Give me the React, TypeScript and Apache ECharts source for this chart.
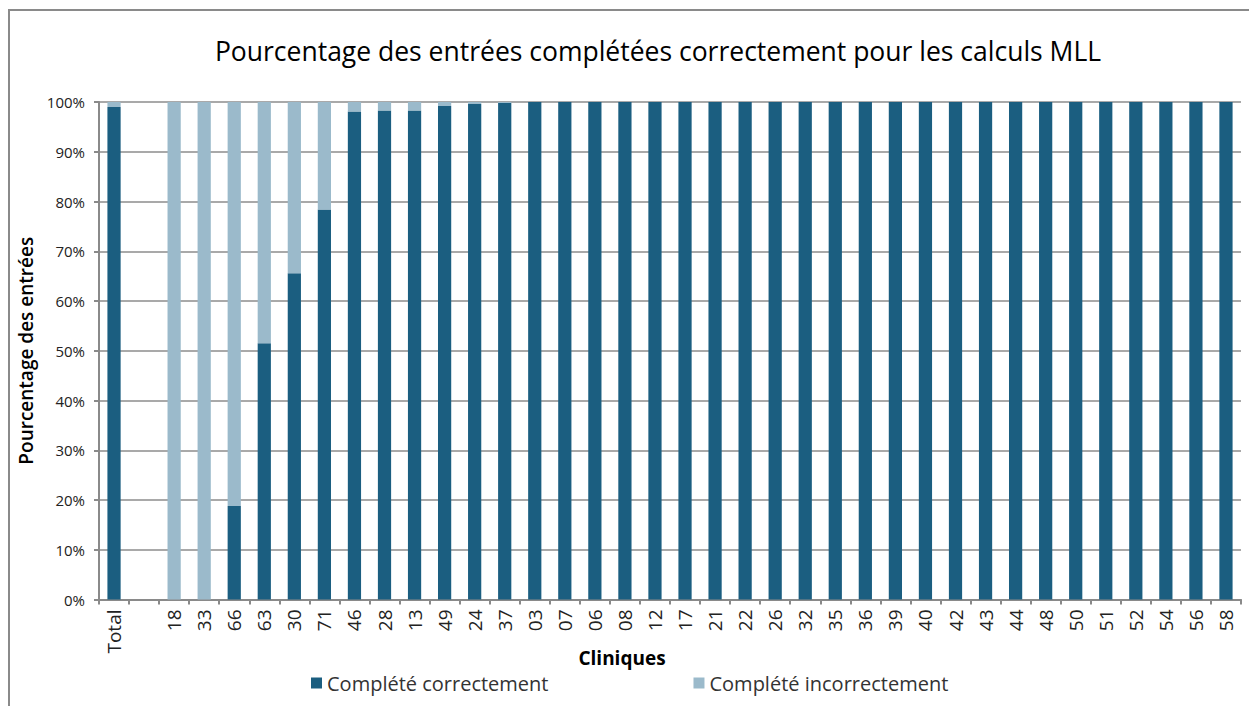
import React, { useEffect, useRef } from "react";
import * as echarts from "echarts";

const categories = ["Total", "", "18", "33", "66", "63", "30", "71", "46", "28", "13", "49", "24", "37", "03", "07", "06", "08", "12", "17", "21", "22", "26", "32", "35", "36", "39", "40", "42", "43", "44", "48", "50", "51", "52", "54", "56", "58"];
const correct: (number | null)[] = [99.0, null, 0, 0, 18.8, 51.5, 65.6, 78.4, 98.1, 98.3, 98.3, 99.2, 99.6, 99.8, 100, 100, 100, 100, 100, 100, 100, 100, 100, 100, 100, 100, 100, 100, 100, 100, 100, 100, 100, 100, 100, 100, 100, 100];
const incorrect: (number | null)[] = [1.0, null, 100, 100, 81.2, 48.5, 34.4, 21.6, 1.9, 1.7, 1.7, 0.8, 0.4, 0.2, 0, 0, 0, 0, 0, 0, 0, 0, 0, 0, 0, 0, 0, 0, 0, 0, 0, 0, 0, 0, 0, 0, 0, 0];
const yTicks = [0, 10, 20, 30, 40, 50, 60, 70, 80, 90, 100];

const FONT = "'Open Sans', sans-serif";

export default function App() {
  const ref = useRef<HTMLDivElement>(null);
  useEffect(() => {
    if (!ref.current) return;
    const chart = echarts.init(ref.current, null, { renderer: "svg" });
    chart.setOption({
      animation: false,
      backgroundColor: "#ffffff",
      title: {
        text: "Pourcentage des entrées complétées correctement pour les calculs MLL",
        left: 653,
        top: 32,
        textAlign: "center",
        textStyle: { fontFamily: FONT, fontSize: 26.5, fontWeight: "normal", color: "#000" },
      },
      grid: { left: 99, right: 8, top: 102, bottom: 106.5, containLabel: false, outerBoundsMode: "none" },
      legend: {
        left: 311,
        top: 673,
        padding: 0,
        itemWidth: 11,
        itemHeight: 11,
        itemGap: 145,
        icon: "rect",
        textStyle: { fontFamily: FONT, fontSize: 20, color: "#333" },
        data: ["Complété correctement", "Complété incorrectement"],
      },
      graphic: [
        {
          type: "rect",
          shape: { x: 9, y: 10, width: 1400, height: 900 },
          style: { fill: "none", stroke: "#8a8a8a", lineWidth: 2 },
          silent: true,
        },
        {
          type: "text",
          x: 622,
          y: 658,
          style: {
            text: "Cliniques",
            fontFamily: FONT,
            fontSize: 19,
            fontWeight: "bold",
            fill: "#000",
            align: "center",
            verticalAlign: "middle",
          },
        },
      ],
      xAxis: {
        type: "category",
        data: categories,
        boundaryGap: true,
        axisLine: { lineStyle: { color: "#8a8a8a", width: 2 } },
        axisTick: { show: true, length: 5, lineStyle: { color: "#8a8a8a", width: 2 } },
        axisLabel: {
          rotate: 90,
          interval: 0,
          margin: 10,
          fontFamily: FONT,
          fontSize: 19,
          color: "#222",
        },
      },
      yAxis: {
        type: "value",
        min: 0,
        max: 100,
        interval: 10,
        name: "Pourcentage des entrées",
        nameLocation: "middle",
        nameGap: 62,
        nameTextStyle: { fontFamily: FONT, fontSize: 19, fontWeight: 600, color: "#000" },
        axisLine: { show: true, lineStyle: { color: "#8a8a8a", width: 2 } },
        axisTick: { show: true, length: 5, lineStyle: { color: "#8a8a8a", width: 2 } },
        axisLabel: {
          margin: 14,
          fontFamily: FONT,
          fontSize: 15,
          color: "#222",
          formatter: (v: number) => (yTicks.includes(v) ? v + "%" : ""),
        },
        splitLine: { show: true, lineStyle: { color: "#8c8c8c", width: 1.5 } },
      },
      series: [
        {
          name: "Complété correctement",
          type: "bar",
          stack: "total",
          barWidth: "44%",
          data: correct,
          itemStyle: { color: "#1B5E80" },
        },
        {
          name: "Complété incorrectement",
          type: "bar",
          stack: "total",
          barWidth: "44%",
          data: incorrect,
          itemStyle: { color: "#9BBACB" },
        },
      ],
    });
    return () => chart.dispose();
  }, []);
  return <div ref={ref} style={{ position: "absolute", left: 0, top: 0, width: 1249, height: 706 }} />;
}
